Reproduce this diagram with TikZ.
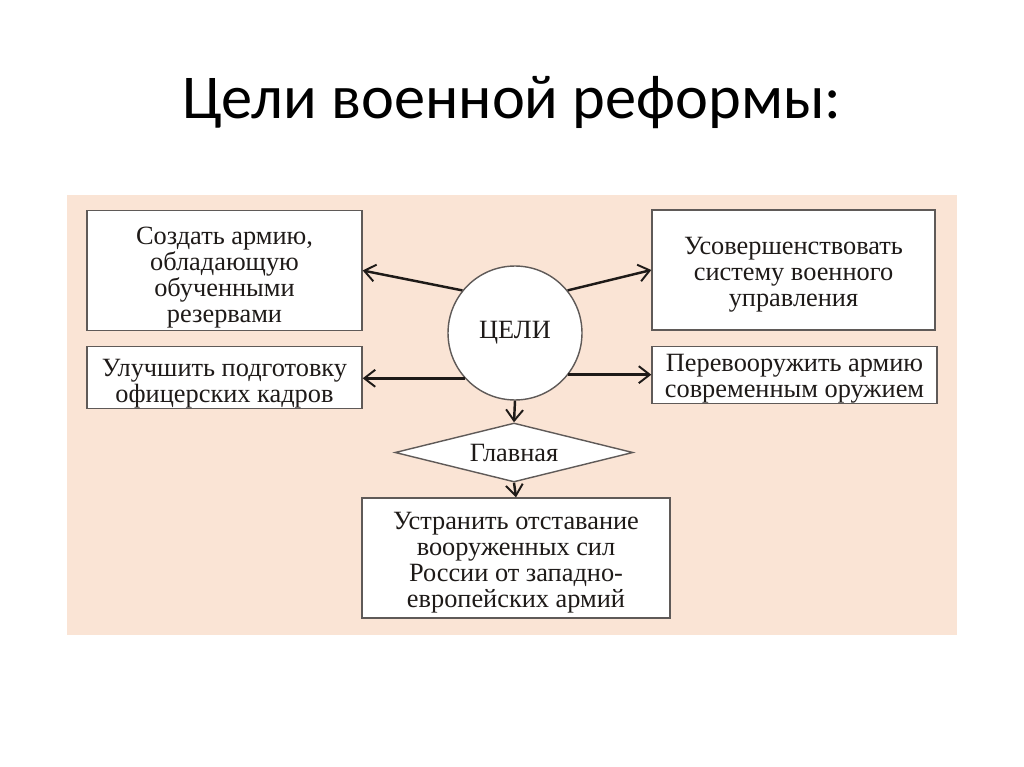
\documentclass[tikz,border=0pt]{standalone}
\usepackage{fontspec}
\setmainfont{Liberation Serif}
\newfontfamily\titlefont{Carlito}
\usetikzlibrary{shapes.geometric,arrows.meta}
\definecolor{panel}{RGB}{250,228,213}
\definecolor{edge}{RGB}{95,90,88}
\definecolor{ink}{RGB}{30,26,24}
\newcommand\dropline[1]{\rule{0pt}{#1}}

\begin{document}
\begin{tikzpicture}[x=0.02cm,y=-0.02cm,
  goal/.style={draw=edge,fill=white,line width=0.8pt,align=center,text=ink,
    font=\fontsize{15}{14.8}\selectfont,inner sep=0pt},
  arr/.style={-{Straight Barb[length=2.2mm,width=3.4mm,line width=1.1pt]},
    draw=ink,line width=1.4pt}]
\useasboundingbox[fill=white] (0,0) rectangle (1024,767);
\node[font=\titlefont\fontsize{35.5}{40}\selectfont,text=black] (title) at (512,103) {Цели военной реформы:};
\fill[panel] (67,195) rectangle (957,635);
% goals
\node[goal,minimum width=5.5cm,minimum height=2.4cm] (b1) at (224.5,270.5)
  {\dropline{18pt}Создать армию,\\обладающую\\обученными\\резервами};
\node[goal,minimum width=5.5cm,minimum height=1.22cm] (b2) at (224.5,377.5)
  {\dropline{17pt}Улучшить подготовку\\офицерских кадров};
\node[goal,minimum width=5.66cm,minimum height=2.4cm] (b3) at (793.5,270)
  {\dropline{15pt}Усовершенствовать\\систему военного\\управления};
\node[goal,minimum width=5.7cm,minimum height=1.12cm] (b4) at (794.5,375)
  {\dropline{14.5pt}Перевооружить армию\\современным оружием};
\node[goal,circle,minimum size=2.68cm] (c) at (515,333) {ЦЕЛИ};
\node[goal,diamond,aspect=4,minimum width=4.76cm,minimum height=1.18cm] (d) at (514,452.5) {Главная};
\node[goal,minimum width=6.16cm,minimum height=2.4cm] (b5) at (516,558)
  {\dropline{15pt}Устранить отставание\\вооруженных сил\\России от западно-\\европейских армий};
% arrows
\draw[arr] (c.141) -- (b1.east);
\draw[arr] (c.39) -- (b3.west);
\draw[arr] (c.222) -- (c.222 -| b2.east);
\draw[arr] (c.322) -- (c.322 -| b4.west);
\draw[arr] (c.south) -- (d.north);
\draw[arr] (d.south) -- (b5.north);
\end{tikzpicture}
\end{document}
